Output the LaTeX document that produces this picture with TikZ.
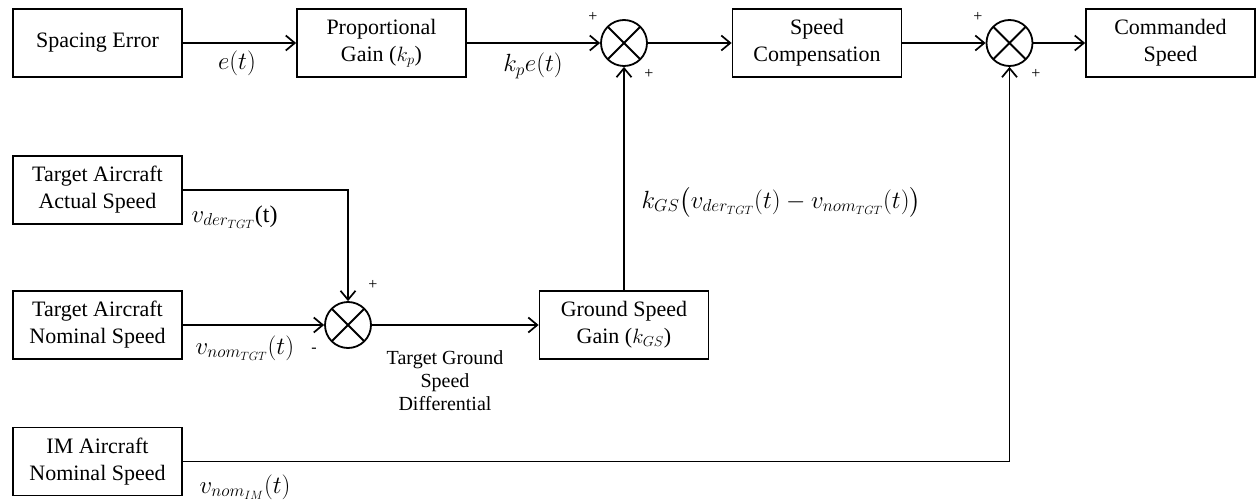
\documentclass[tikz,border=0pt]{standalone}
\usepackage{fontspec}
\setmainfont{Liberation Serif}
\usepackage{amsmath}
\usetikzlibrary{arrows.meta,positioning}

\begin{document}
\begin{tikzpicture}[x=1pt, y=-1pt, font=\fontsize{22}{27}\selectfont,
	block/.style={draw, line width=1.8pt, minimum width=169pt, minimum height=68pt, align=center, inner sep=2pt},
	sumjn/.style={draw, circle, line width=1.8pt, minimum size=46pt, inner sep=0pt,
		path picture={\draw[line width=1.8pt] (path picture bounding box.north west) -- (path picture bounding box.south east)
			(path picture bounding box.north east) -- (path picture bounding box.south west);}},
	sig/.style={line width=1.7pt, -{Straight Barb[length=9pt,width=15pt,line width=1.7pt]}},
	sgn/.style={font=\fontsize{16}{16}\selectfont, inner sep=0pt},
	mlbl/.style={font=\fontsize{24}{27}\selectfont}]
			\useasboundingbox (0,0) rectangle (1256,500);

			% Top row: spacing error to commanded speed
			\node[block] (se) at (97.5,43) {Spacing Error};
			\node[block] (pg) at (381.5,43) {Proportional\\Gain ($k_p$)};
			\node[sumjn] (s1) at (624,43) {};
			\node[block] (sc) at (817,43) {Speed\\Compensation};
			\node[sumjn] (s2) at (1009.5,43) {};
			\node[block] (cs) at (1170.5,43) {Commanded\\Speed};

			\draw[sig] (se) -- (pg);
			\draw[sig] (pg) -- (s1);
			\draw[sig] (s1) -- (sc);
			\draw[sig] (sc) -- (s2);
			\draw[sig] (s2) -- (cs);

			\node[mlbl] (lbl-e) at (237,63) {$e(t)$};
			\node[mlbl] (lbl-kpe) at (533,66) {$k_p e(t)$};
			\node[sgn] (p1a) at (593,17) {+};
			\node[sgn] (p1b) at (649,74) {+};
			\node[sgn] (p2a) at (978,17) {+};
			\node[sgn] (p2b) at (1036,74) {+};

			% Target aircraft speeds
			\node[block] (ta) at (97.5,190) {Target Aircraft\\Actual Speed};
			\node[block] (tn) at (97.5,325) {Target Aircraft\\Nominal Speed};
			\node[sumjn] (s3) at (348,325) {};
			\node[block] (gsg) at (624,325) {Ground Speed\\Gain ($k_{GS}$)};

			\draw[sig] (ta.east) -| (s3.north);
			\draw[sig] (tn) -- (s3);
			\draw[sig] (s3) -- (gsg);
			\draw[sig] (gsg) -- (s1);

			\node[mlbl, anchor=west] (lbl-vder) at (188,217) {$v_{der_{TGT}}$(t)};
			\node[mlbl, anchor=west] (lbl-vnom) at (192,348) {$v_{nom_{TGT}}(t)$};
			\node[mlbl, anchor=west] (lbl-kgs) at (638,202) {$k_{GS}\big(v_{der_{TGT}}(t)-v_{nom_{TGT}}(t)\big)$};
			\node[align=center, font=\fontsize{20}{23}\selectfont] (lbl-tgsd) at (445,381) {Target Ground\\Speed\\Differential};
			\node[sgn] (p3) at (373,285) {+};
			\node[sgn] (m3) at (314,350) {-};

			% IM aircraft speed
			\node[block] (im) at (97.5,461.5) {IM Aircraft\\Nominal Speed};
			\draw[sig] (im.east) -| (s2.south);
			\node[mlbl, anchor=west] (lbl-vim) at (196,487) {$v_{nom_{IM}}(t)$};
		\end{tikzpicture}
\end{document}
